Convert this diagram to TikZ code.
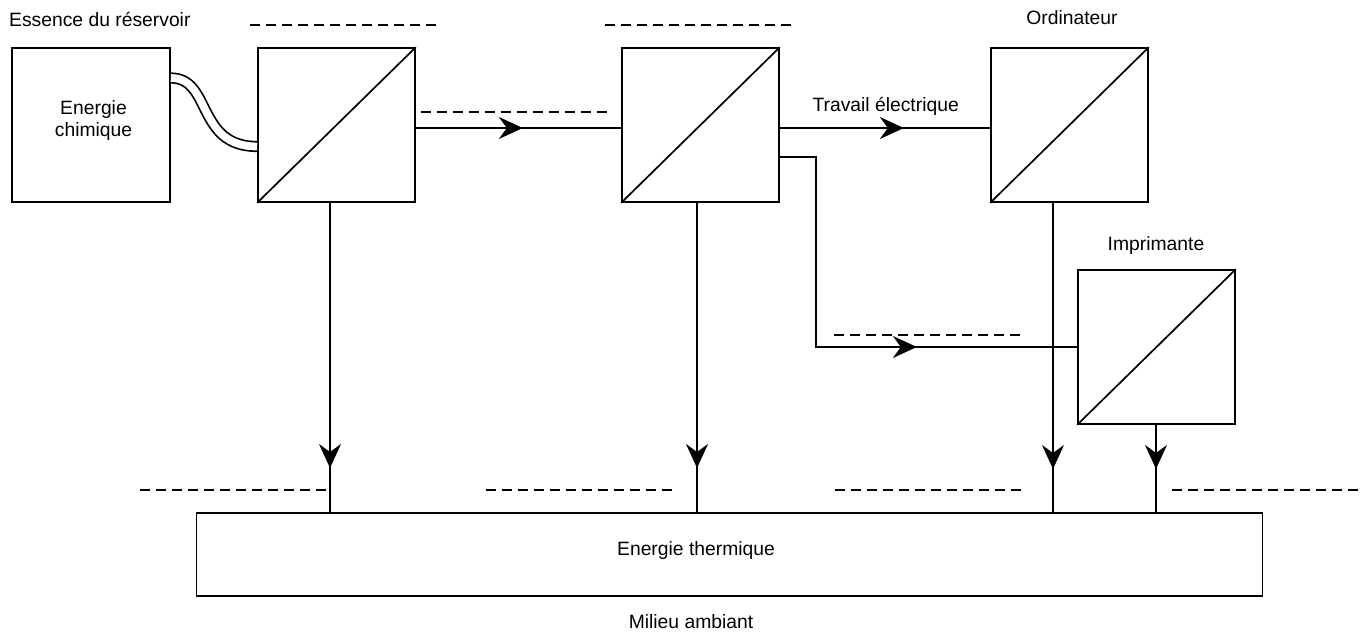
\documentclass[tikz,border=0pt]{standalone}
\usepackage{fontspec}
\setmainfont{Liberation Sans}
\usetikzlibrary{arrows.meta,decorations.markings}
\begin{document}
\begin{tikzpicture}[x=1pt,y=-1pt]
\tikzset{
 ln/.style={line width=1.7pt},
 blk/.style={draw, line width=1.7pt, minimum width=157pt, minimum height=154pt, inner sep=0pt},
 dsh/.style={line width=1.5pt, dash pattern=on 10pt off 6pt},
 mid/.style={postaction={decorate}, decoration={markings, mark=at position #1 with {\arrow{Stealth[length=24pt,width=22pt,inset=8pt]}}}},
 lbl/.style={font=\fontsize{19.3}{22}\selectfont, inner sep=0pt}
}
\useasboundingbox (0,0) rectangle (1366,635);
% boxes
\node[blk, minimum width=158pt] (ch) at (91,125) {};
\node[lbl, align=center] (cht) at (93.5,121) {Energie\\chimique};
\node[blk] (b1) at (336.5,125) {};
\node[blk] (b2) at (700.5,125) {};
\node[blk] (b3) at (1069.5,125) {};
\node[blk] (b4) at (1156.5,347) {};
\node[draw, ln, minimum width=1066pt, minimum height=83pt, inner sep=0pt] (th) at (729.5,554.5) {};
\node[lbl, anchor=base] (tht) at (696,555) {Energie thermique};
\foreach \b in {b1,b2,b3,b4} \draw[ln] (\b.south west) -- (\b.north east);
% labels
\node[lbl, anchor=base west] (t1) at (9,26) {Essence du réservoir};
\node[lbl, anchor=base] (t2) at (1072,24) {Ordinateur};
\node[lbl, anchor=base] (t3) at (1156,250) {Imprimante};
\node[lbl, anchor=base east] (t4) at (959,111) {Travail électrique};
\node[lbl, anchor=base] (t5) at (691,628) {Milieu ambiant};
% double pipe
\draw[line width=1.7pt, double distance=7.8pt] ([yshift=47pt]ch.east) .. controls (212,78) and (196,146.5) .. ([yshift=-21.5pt]b1.west);
% horizontal flows
\draw[ln, mid=107pt] ([yshift=-3pt]b1.east) -- ([yshift=-3pt]b2.west);
\draw[ln, mid=124pt] ([yshift=-3pt]b2.east) -- ([yshift=-3pt]b3.west);
\coordinate (c1) at (816,157);
\draw[ln, mid=327pt] ([yshift=-32pt]b2.east) -- (c1) |- (b4.west);
% vertical flows
\coordinate (v1) at (330,202); \coordinate (v2) at (697,202); \coordinate (v3) at (1053,202);
\coordinate (v4) at (1156,424);
\draw[ln, mid=266pt] (v1) -- (v1 |- th.north);
\draw[ln, mid=266pt] (v2) -- (v2 |- th.north);
\draw[ln, mid=267pt] (v3) -- (v3 |- th.north);
\draw[ln, mid=45pt] (v4) -- (v4 |- th.north);
% dashed placeholders
\draw[dsh] (250,25) -- (438,25);
\draw[dsh] (605,25) -- (792,25);
\draw[dsh] (421,112) -- (610,112);
\draw[dsh] (834,335) -- (1022,335);
\draw[dsh] (140,490) -- (326,490);
\draw[dsh] (486,490) -- (672,490);
\draw[dsh] (835,490) -- (1022,490);
\draw[dsh] (1172,490) -- (1360,490);
\end{tikzpicture}
\end{document}
